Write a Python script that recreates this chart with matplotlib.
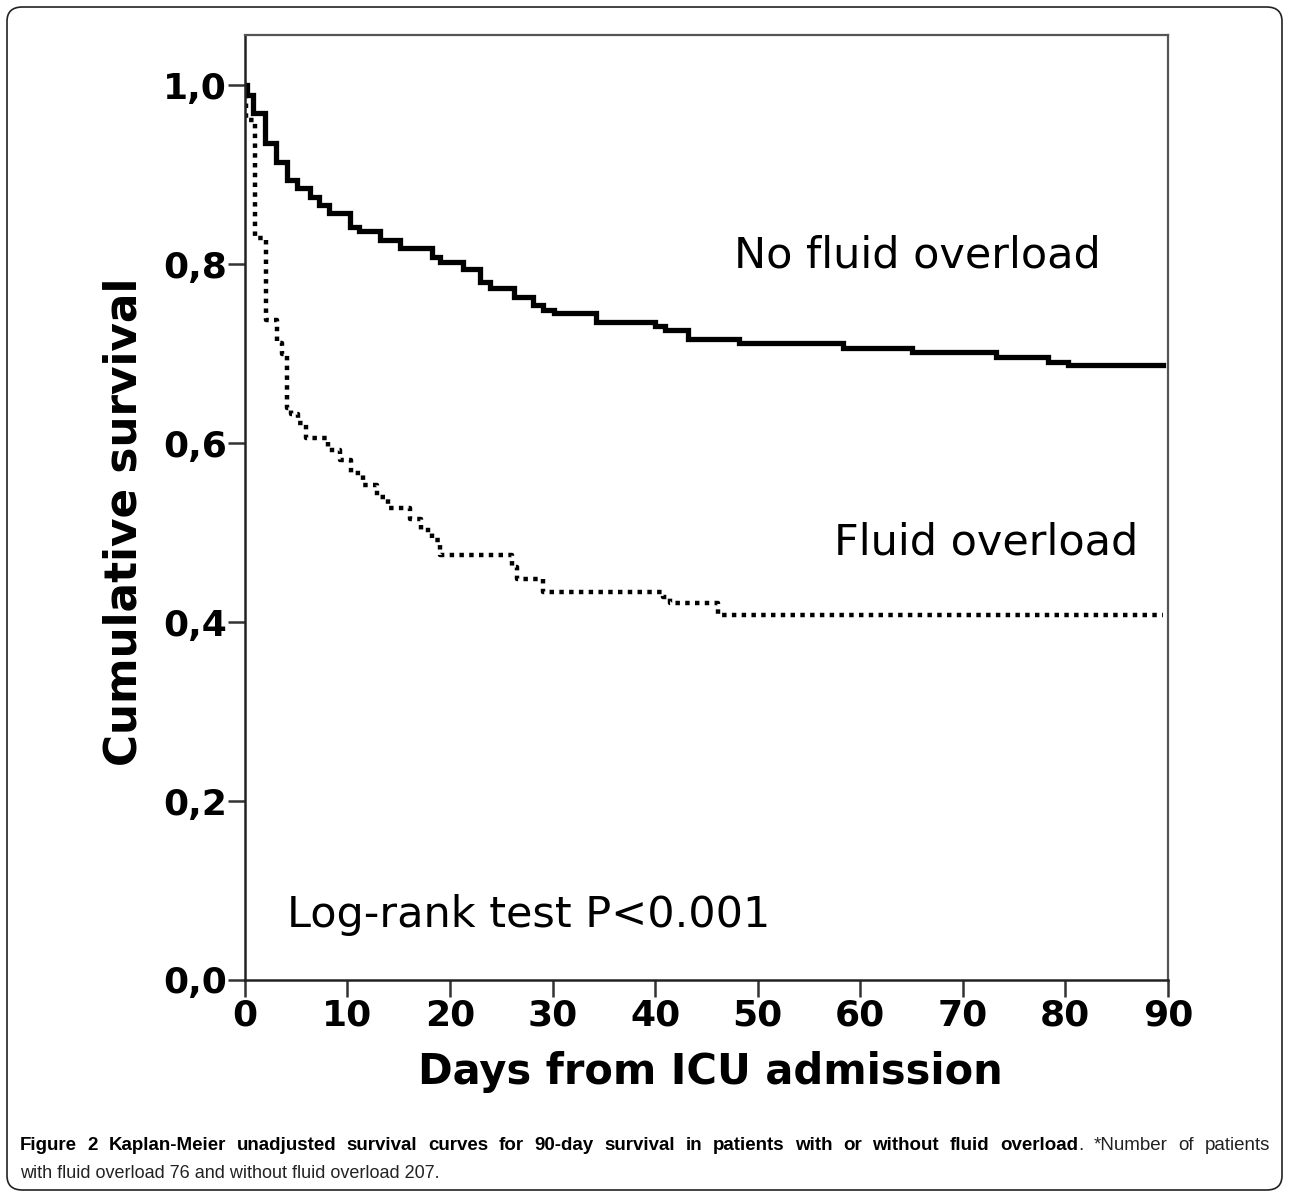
import matplotlib.pyplot as plt
from matplotlib.patches import FancyBboxPatch

# Kaplan-Meier step data (days, cumulative survival)
days_no_fo = [0, 0.2, 0.8, 2.0, 3.0, 4.1, 5.1, 6.3, 7.2, 8.2, 10.2, 11.1, 13.2, 15.1,
              18.2, 19.0, 21.3, 22.9, 23.9, 26.2, 28.1, 29.1, 30.1, 34.2, 40.0, 41.0,
              43.2, 48.2, 58.3, 65.1, 73.2, 78.3, 80.3, 89.5]
surv_no_fo = [1.0, 0.989, 0.969, 0.935, 0.914, 0.894, 0.885, 0.875, 0.866, 0.857, 0.841,
              0.837, 0.827, 0.818, 0.808, 0.802, 0.795, 0.780, 0.773, 0.763, 0.754, 0.749,
              0.745, 0.735, 0.731, 0.726, 0.716, 0.712, 0.706, 0.702, 0.696, 0.691, 0.687,
              0.687]

days_fo = [0, 0.1, 1.0, 2.1, 3.1, 3.6, 4.1, 4.5, 5.2, 6.0, 8.1, 9.3, 10.3, 11.5, 12.9,
           14.0, 16.1, 17.2, 18.2, 19.0, 26.0, 26.5, 29.1, 40.8, 41.5, 46.1, 89.5]
surv_fo = [1.0, 0.961, 0.829, 0.737, 0.712, 0.700, 0.639, 0.633, 0.622, 0.606, 0.592,
           0.581, 0.566, 0.553, 0.540, 0.527, 0.515, 0.503, 0.492, 0.475, 0.461, 0.448,
           0.434, 0.428, 0.421, 0.408, 0.408]

x_ticks = [0, 10, 20, 30, 40, 50, 60, 70, 80, 90]
y_ticks = [0.0, 0.2, 0.4, 0.6, 0.8, 1.0]
y_tick_labels = ["0,0", "0,2", "0,4", "0,6", "0,8", "1,0"]

caption_bold = ("Figure 2 Kaplan-Meier unadjusted survival curves for 90-day survival "
                "in patients with or without fluid overload")
caption_rest = ". *Number of patients"
caption_line2 = "with fluid overload 76 and without fluid overload 207."

fig = plt.figure(figsize=(12.89, 11.97), dpi=100)
ax = fig.add_axes([0.190, 0.1813, 0.716, 0.7895])

ax.step(days_no_fo, surv_no_fo, where="post", color="black", lw=3.8,
        solid_joinstyle="miter")
ax.step(days_fo, surv_fo, where="post", color="black", lw=3.2,
        linestyle=(0, (1.0, 1.2)), dash_capstyle="butt")

ax.set_xlim(0, 90)
ax.set_ylim(0, 1.056)
ax.set_xticks(x_ticks)
ax.set_xticklabels([str(t) for t in x_ticks])
ax.set_yticks(y_ticks)
ax.set_yticklabels(y_tick_labels)
ax.tick_params(axis="both", direction="out", length=12, width=1.8, color="#333333",
               labelsize=26, pad=1)
for lab in ax.get_xticklabels() + ax.get_yticklabels():
    lab.set_fontweight("bold")

for side in ["left", "bottom"]:
    ax.spines[side].set_linewidth(1.8)
    ax.spines[side].set_color("#222222")
for side in ["top", "right"]:
    ax.spines[side].set_linewidth(1.6)
    ax.spines[side].set_color("#555555")

ax.text(-0.131, 0.485, "Cumulative survival", transform=ax.transAxes, rotation=90,
        ha="center", va="center", fontsize=31.5, fontweight="bold")
ax.text(0.504, -0.097, "Days from ICU admission", transform=ax.transAxes,
        ha="center", va="center", fontsize=30, fontweight="bold")

ax.text(47.7, 0.810, "No fluid overload", fontsize=31, ha="left", va="center")
ax.text(57.4, 0.489, "Fluid overload", fontsize=31, ha="left", va="center")
ax.text(4.1, 0.073, "Log-rank test P<0.001", fontsize=31, ha="left", va="center")

# caption: first line justified across the full width
cap_font = ["Liberation Sans", "DejaVu Sans"]
cap_size = 13.5
W, H = 1289, 1197
left_px, right_px = 20, 1270
renderer = fig.canvas.get_renderer()

# words as lists of (text, weight) pieces; "overload" + "." share one word
words = [[(w, "bold")] for w in caption_bold.split()]
rest = caption_rest.split()
words[-1].append((rest[0], "normal"))
words += [[(w, "normal")] for w in rest[1:]]


def piece_width(s, weight):
    t = fig.text(0, 0, s, family=cap_font, fontsize=cap_size, fontweight=weight)
    wpx = t.get_window_extent(renderer).width
    t.remove()
    return wpx


word_w = [sum(piece_width(s, wt) for s, wt in wd) for wd in words]
gap = (right_px - left_px - sum(word_w)) / (len(words) - 1)
x = left_px
for wd, ww in zip(words, word_w):
    xp = x
    for s, wt in wd:
        fig.text(xp / W, 1 - 1150 / H, s, family=cap_font, fontsize=cap_size,
                 fontweight=wt, color="black" if wt == "bold" else "#222222",
                 va="baseline")
        xp += piece_width(s, wt)
    x += ww + gap

fig.text(left_px / W, 1 - 1178 / H, caption_line2, family=cap_font,
         fontsize=13, color="#222222", va="baseline")

border = FancyBboxPatch((7 / W, 7 / H), 1275 / W, 1183 / H,
                        boxstyle="round,pad=0,rounding_size=0.012",
                        transform=fig.transFigure, fill=False, edgecolor="#222222",
                        lw=1.2)
fig.patches.append(border)

fig.savefig("out.png", dpi=100)
